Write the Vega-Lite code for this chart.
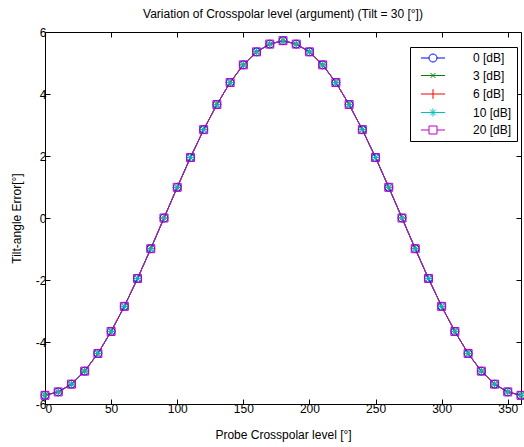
{
  "$schema": "https://vega.github.io/schema/vega-lite/v6.json",
  "width": 476,
  "height": 372,
  "autosize": {"type": "none"},
  "padding": {"left": 45, "top": 32, "right": 3, "bottom": 43},
  "background": "white",
  "title": {"text": "Variation of Crosspolar level (argument) (Tilt = 30 [°])", "font": "Liberation Sans", "fontSize": 12, "fontWeight": "normal", "color": "black", "offset": 5},
  "data": {"values": [
    {"s":"0 [dB]","x":0,"y":-5.72},{"s":"0 [dB]","x":10,"y":-5.61},{"s":"0 [dB]","x":20,"y":-5.36},{"s":"0 [dB]","x":30,"y":-4.94},{"s":"0 [dB]","x":40,"y":-4.37},{"s":"0 [dB]","x":50,"y":-3.66},{"s":"0 [dB]","x":60,"y":-2.85},{"s":"0 [dB]","x":70,"y":-1.95},{"s":"0 [dB]","x":80,"y":-0.99},{"s":"0 [dB]","x":90,"y":0},{"s":"0 [dB]","x":100,"y":0.99},{"s":"0 [dB]","x":110,"y":1.95},{"s":"0 [dB]","x":120,"y":2.85},{"s":"0 [dB]","x":130,"y":3.66},{"s":"0 [dB]","x":140,"y":4.37},{"s":"0 [dB]","x":150,"y":4.94},{"s":"0 [dB]","x":160,"y":5.36},{"s":"0 [dB]","x":170,"y":5.61},{"s":"0 [dB]","x":180,"y":5.72},{"s":"0 [dB]","x":190,"y":5.61},{"s":"0 [dB]","x":200,"y":5.36},{"s":"0 [dB]","x":210,"y":4.94},{"s":"0 [dB]","x":220,"y":4.37},{"s":"0 [dB]","x":230,"y":3.66},{"s":"0 [dB]","x":240,"y":2.85},{"s":"0 [dB]","x":250,"y":1.95},{"s":"0 [dB]","x":260,"y":0.99},{"s":"0 [dB]","x":270,"y":0},{"s":"0 [dB]","x":280,"y":-0.99},{"s":"0 [dB]","x":290,"y":-1.95},{"s":"0 [dB]","x":300,"y":-2.85},{"s":"0 [dB]","x":310,"y":-3.66},{"s":"0 [dB]","x":320,"y":-4.37},{"s":"0 [dB]","x":330,"y":-4.94},{"s":"0 [dB]","x":340,"y":-5.36},{"s":"0 [dB]","x":350,"y":-5.61},{"s":"0 [dB]","x":360,"y":-5.72},
    {"s":"3 [dB]","x":0,"y":-5.72},{"s":"3 [dB]","x":10,"y":-5.61},{"s":"3 [dB]","x":20,"y":-5.36},{"s":"3 [dB]","x":30,"y":-4.94},{"s":"3 [dB]","x":40,"y":-4.37},{"s":"3 [dB]","x":50,"y":-3.66},{"s":"3 [dB]","x":60,"y":-2.85},{"s":"3 [dB]","x":70,"y":-1.95},{"s":"3 [dB]","x":80,"y":-0.99},{"s":"3 [dB]","x":90,"y":0},{"s":"3 [dB]","x":100,"y":0.99},{"s":"3 [dB]","x":110,"y":1.95},{"s":"3 [dB]","x":120,"y":2.85},{"s":"3 [dB]","x":130,"y":3.66},{"s":"3 [dB]","x":140,"y":4.37},{"s":"3 [dB]","x":150,"y":4.94},{"s":"3 [dB]","x":160,"y":5.36},{"s":"3 [dB]","x":170,"y":5.61},{"s":"3 [dB]","x":180,"y":5.72},{"s":"3 [dB]","x":190,"y":5.61},{"s":"3 [dB]","x":200,"y":5.36},{"s":"3 [dB]","x":210,"y":4.94},{"s":"3 [dB]","x":220,"y":4.37},{"s":"3 [dB]","x":230,"y":3.66},{"s":"3 [dB]","x":240,"y":2.85},{"s":"3 [dB]","x":250,"y":1.95},{"s":"3 [dB]","x":260,"y":0.99},{"s":"3 [dB]","x":270,"y":0},{"s":"3 [dB]","x":280,"y":-0.99},{"s":"3 [dB]","x":290,"y":-1.95},{"s":"3 [dB]","x":300,"y":-2.85},{"s":"3 [dB]","x":310,"y":-3.66},{"s":"3 [dB]","x":320,"y":-4.37},{"s":"3 [dB]","x":330,"y":-4.94},{"s":"3 [dB]","x":340,"y":-5.36},{"s":"3 [dB]","x":350,"y":-5.61},{"s":"3 [dB]","x":360,"y":-5.72},
    {"s":"6 [dB]","x":0,"y":-5.72},{"s":"6 [dB]","x":10,"y":-5.61},{"s":"6 [dB]","x":20,"y":-5.36},{"s":"6 [dB]","x":30,"y":-4.94},{"s":"6 [dB]","x":40,"y":-4.37},{"s":"6 [dB]","x":50,"y":-3.66},{"s":"6 [dB]","x":60,"y":-2.85},{"s":"6 [dB]","x":70,"y":-1.95},{"s":"6 [dB]","x":80,"y":-0.99},{"s":"6 [dB]","x":90,"y":0},{"s":"6 [dB]","x":100,"y":0.99},{"s":"6 [dB]","x":110,"y":1.95},{"s":"6 [dB]","x":120,"y":2.85},{"s":"6 [dB]","x":130,"y":3.66},{"s":"6 [dB]","x":140,"y":4.37},{"s":"6 [dB]","x":150,"y":4.94},{"s":"6 [dB]","x":160,"y":5.36},{"s":"6 [dB]","x":170,"y":5.61},{"s":"6 [dB]","x":180,"y":5.72},{"s":"6 [dB]","x":190,"y":5.61},{"s":"6 [dB]","x":200,"y":5.36},{"s":"6 [dB]","x":210,"y":4.94},{"s":"6 [dB]","x":220,"y":4.37},{"s":"6 [dB]","x":230,"y":3.66},{"s":"6 [dB]","x":240,"y":2.85},{"s":"6 [dB]","x":250,"y":1.95},{"s":"6 [dB]","x":260,"y":0.99},{"s":"6 [dB]","x":270,"y":0},{"s":"6 [dB]","x":280,"y":-0.99},{"s":"6 [dB]","x":290,"y":-1.95},{"s":"6 [dB]","x":300,"y":-2.85},{"s":"6 [dB]","x":310,"y":-3.66},{"s":"6 [dB]","x":320,"y":-4.37},{"s":"6 [dB]","x":330,"y":-4.94},{"s":"6 [dB]","x":340,"y":-5.36},{"s":"6 [dB]","x":350,"y":-5.61},{"s":"6 [dB]","x":360,"y":-5.72},
    {"s":"10 [dB]","x":0,"y":-5.72},{"s":"10 [dB]","x":10,"y":-5.61},{"s":"10 [dB]","x":20,"y":-5.36},{"s":"10 [dB]","x":30,"y":-4.94},{"s":"10 [dB]","x":40,"y":-4.37},{"s":"10 [dB]","x":50,"y":-3.66},{"s":"10 [dB]","x":60,"y":-2.85},{"s":"10 [dB]","x":70,"y":-1.95},{"s":"10 [dB]","x":80,"y":-0.99},{"s":"10 [dB]","x":90,"y":0},{"s":"10 [dB]","x":100,"y":0.99},{"s":"10 [dB]","x":110,"y":1.95},{"s":"10 [dB]","x":120,"y":2.85},{"s":"10 [dB]","x":130,"y":3.66},{"s":"10 [dB]","x":140,"y":4.37},{"s":"10 [dB]","x":150,"y":4.94},{"s":"10 [dB]","x":160,"y":5.36},{"s":"10 [dB]","x":170,"y":5.61},{"s":"10 [dB]","x":180,"y":5.72},{"s":"10 [dB]","x":190,"y":5.61},{"s":"10 [dB]","x":200,"y":5.36},{"s":"10 [dB]","x":210,"y":4.94},{"s":"10 [dB]","x":220,"y":4.37},{"s":"10 [dB]","x":230,"y":3.66},{"s":"10 [dB]","x":240,"y":2.85},{"s":"10 [dB]","x":250,"y":1.95},{"s":"10 [dB]","x":260,"y":0.99},{"s":"10 [dB]","x":270,"y":0},{"s":"10 [dB]","x":280,"y":-0.99},{"s":"10 [dB]","x":290,"y":-1.95},{"s":"10 [dB]","x":300,"y":-2.85},{"s":"10 [dB]","x":310,"y":-3.66},{"s":"10 [dB]","x":320,"y":-4.37},{"s":"10 [dB]","x":330,"y":-4.94},{"s":"10 [dB]","x":340,"y":-5.36},{"s":"10 [dB]","x":350,"y":-5.61},{"s":"10 [dB]","x":360,"y":-5.72},
    {"s":"20 [dB]","x":0,"y":-5.72},{"s":"20 [dB]","x":10,"y":-5.61},{"s":"20 [dB]","x":20,"y":-5.36},{"s":"20 [dB]","x":30,"y":-4.94},{"s":"20 [dB]","x":40,"y":-4.37},{"s":"20 [dB]","x":50,"y":-3.66},{"s":"20 [dB]","x":60,"y":-2.85},{"s":"20 [dB]","x":70,"y":-1.95},{"s":"20 [dB]","x":80,"y":-0.99},{"s":"20 [dB]","x":90,"y":0},{"s":"20 [dB]","x":100,"y":0.99},{"s":"20 [dB]","x":110,"y":1.95},{"s":"20 [dB]","x":120,"y":2.85},{"s":"20 [dB]","x":130,"y":3.66},{"s":"20 [dB]","x":140,"y":4.37},{"s":"20 [dB]","x":150,"y":4.94},{"s":"20 [dB]","x":160,"y":5.36},{"s":"20 [dB]","x":170,"y":5.61},{"s":"20 [dB]","x":180,"y":5.72},{"s":"20 [dB]","x":190,"y":5.61},{"s":"20 [dB]","x":200,"y":5.36},{"s":"20 [dB]","x":210,"y":4.94},{"s":"20 [dB]","x":220,"y":4.37},{"s":"20 [dB]","x":230,"y":3.66},{"s":"20 [dB]","x":240,"y":2.85},{"s":"20 [dB]","x":250,"y":1.95},{"s":"20 [dB]","x":260,"y":0.99},{"s":"20 [dB]","x":270,"y":0},{"s":"20 [dB]","x":280,"y":-0.99},{"s":"20 [dB]","x":290,"y":-1.95},{"s":"20 [dB]","x":300,"y":-2.85},{"s":"20 [dB]","x":310,"y":-3.66},{"s":"20 [dB]","x":320,"y":-4.37},{"s":"20 [dB]","x":330,"y":-4.94},{"s":"20 [dB]","x":340,"y":-5.36},{"s":"20 [dB]","x":350,"y":-5.61},{"s":"20 [dB]","x":360,"y":-5.72}
  ]},
  "resolve": {"scale": {"x": "independent", "y": "independent"}},
  "layer": [
    {
      "encoding": {
        "x": {"field": "x", "type": "quantitative", "scale": {"domain": [0, 360], "nice": false}, "axis": {"values": [0,50,100,150,200,250,300,350], "title": "Probe Crosspolar level [°]", "labelExpr": "'' + datum.value"}},
        "y": {"field": "y", "type": "quantitative", "scale": {"domain": [-6, 6], "nice": false}, "axis": {"values": [-6,-4,-2,0,2,4,6], "title": "Tilt-angle Error[°]", "labelExpr": "'' + datum.value"}}
      },
      "layer": [
        {
          "mark": {"type": "line", "strokeWidth": 1},
          "encoding": {
            "color": {"field": "s", "type": "nominal", "sort": ["0 [dB]","3 [dB]","6 [dB]","10 [dB]","20 [dB]"],
              "scale": {"domain": ["0 [dB]","3 [dB]","6 [dB]","10 [dB]","20 [dB]"], "range": ["#0000ff","#008000","#ff0000","#00bfbf","#bf00bf"]},
              "legend": {
                "title": null,
                "orient": "none",
                "legendX": 365,
                "legendY": 15,
                "fillColor": "white",
                "strokeColor": "black",
                "padding": 5,
                "rowPadding": 5.5,
                "symbolOffset": 12,
                "labelOffset": 34,
                "labelFont": "Liberation Sans",
                "labelFontSize": 12,
                "labelColor": "black",
                "labelExpr": "datum.label + '\u00a0'",
                "encode": {"symbols": {"update": {
                  "size": {"value": 64},
                  "strokeWidth": {"value": 1},
                  "fill": {"value": "transparent"},
                  "shape": {"signal": "datum.value==='0 [dB]' ? 'M-3,0H-1M1,0H3M1,0A1,1 0 1,1 -1,0A1,1 0 1,1 1,0' : datum.value==='3 [dB]' ? 'M-3,0H3M-0.6,-0.6L0.6,0.6M-0.6,0.6L0.6,-0.6' : datum.value==='6 [dB]' ? 'M-3,0H3M0,-1.2V1.2' : datum.value==='10 [dB]' ? 'M-3,0H3M0,-1V1M-0.7,-0.7L0.7,0.7M-0.7,0.7L0.7,-0.7' : 'M-3,0H-1M1,0H3M-1,-1H1V1H-1Z'"}
                }}}
              }
            }
          }
        },
        {
          "transform": [{"filter": "datum.s === '0 [dB]'"}],
          "mark": {"type": "point", "filled": false, "size": 64, "strokeWidth": 1, "opacity": 1, "shape": "circle", "color": "#0000ff"}
        },
        {
          "transform": [{"filter": "datum.s === '3 [dB]'"}],
          "mark": {"type": "point", "filled": false, "size": 64, "strokeWidth": 1, "opacity": 1, "shape": "M-0.6,-0.6L0.6,0.6M-0.6,0.6L0.6,-0.6", "color": "#008000"}
        },
        {
          "transform": [{"filter": "datum.s === '6 [dB]'"}],
          "mark": {"type": "point", "filled": false, "size": 64, "strokeWidth": 1, "opacity": 1, "shape": "M-1,0H1M0,-1V1", "color": "#ff0000"}
        },
        {
          "transform": [{"filter": "datum.s === '10 [dB]'"}],
          "mark": {"type": "point", "filled": false, "size": 64, "strokeWidth": 1, "opacity": 1, "shape": "M-1,0H1M0,-1V1M-0.7,-0.7L0.7,0.7M-0.7,0.7L0.7,-0.7", "color": "#00bfbf"}
        },
        {
          "transform": [{"filter": "datum.s === '20 [dB]'"}],
          "mark": {"type": "point", "filled": false, "size": 64, "strokeWidth": 1, "opacity": 1, "shape": "square", "color": "#bf00bf"}
        }
      ]
    },
    {
      "mark": {"type": "point", "opacity": 0},
      "encoding": {
        "x": {"field": "x", "type": "quantitative", "scale": {"domain": [0, 360], "nice": false}, "axis": {"orient": "top", "values": [0,50,100,150,200,250,300,350], "labels": false, "title": null}},
        "y": {"field": "y", "type": "quantitative", "scale": {"domain": [-6, 6], "nice": false}, "axis": {"orient": "right", "values": [-6,-4,-2,0,2,4,6], "labels": false, "title": null}}
      }
    }
  ],
  "config": {
    "view": {"stroke": null},
    "axis": {
      "grid": false,
      "domainColor": "black",
      "domainWidth": 1,
      "tickColor": "black",
      "tickSize": -5,
      "tickWidth": 1,
      "labelFont": "Liberation Sans",
      "labelFontSize": 12,
      "labelColor": "black",
      "labelPadding": 4,
      "titleFont": "Liberation Sans",
      "titleFontSize": 12,
      "titleFontWeight": "normal",
      "titleColor": "black"
    },
    "axisX": {"titlePadding": 15},
    "axisY": {"titlePadding": 12}
  }
}
